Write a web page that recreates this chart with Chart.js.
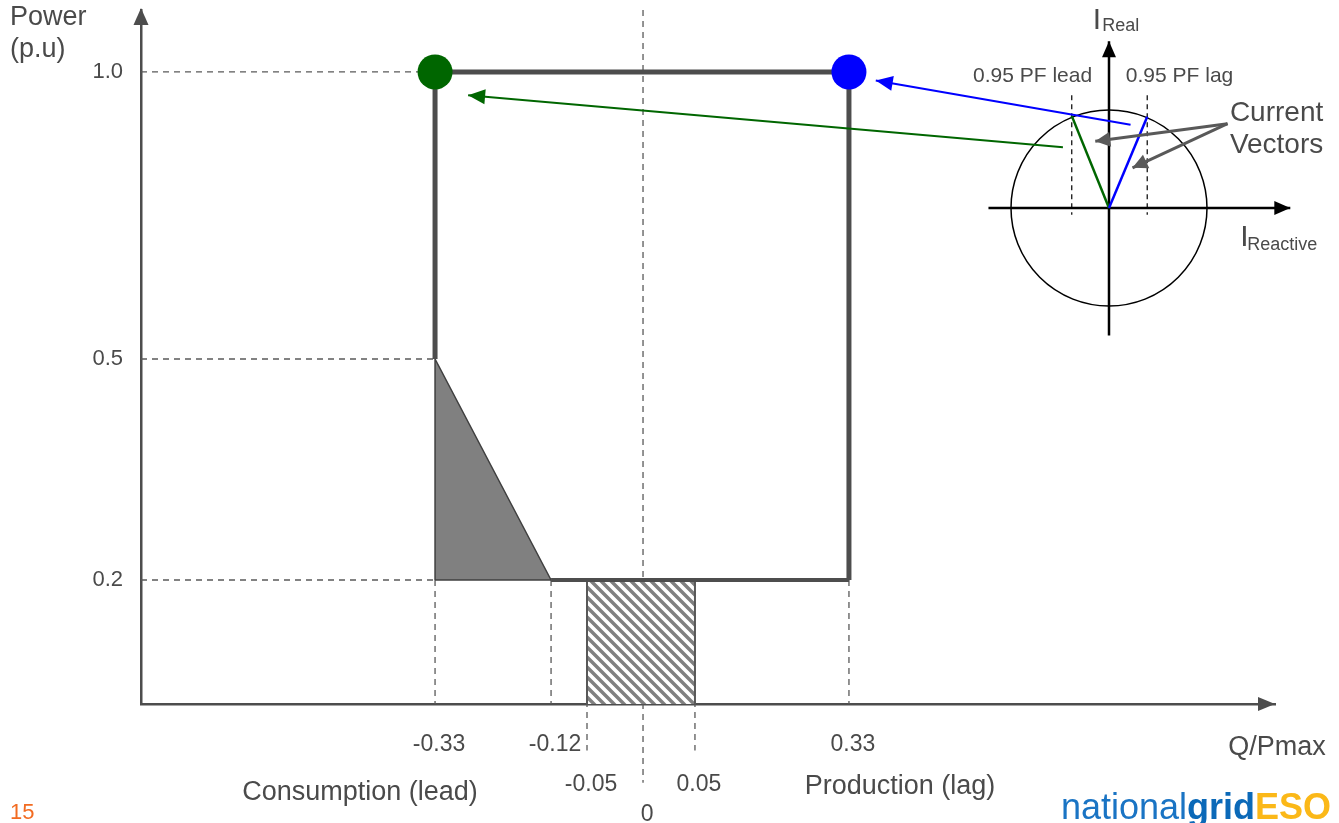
<!DOCTYPE html>
<html>
<head>
<meta charset="utf-8">
<script src="https://cdn.jsdelivr.net/npm/chart.js@4.4.1/dist/chart.umd.min.js"></script>
<style>
  html, body { margin: 0; padding: 0; background: #fff; }
  canvas { display: block; }
</style>
</head>
<body>
<canvas id="chart" width="1339" height="823"></canvas>
<script>
// Q/Pmax and power values
const qTicks = [-0.33, -0.12, -0.05, 0, 0.05, 0.33];
const qTickRow = [0, 0, 1, 2, 1, 0];
const pTicks = [0.2, 0.5, 1.0];

// reactive capability envelope
const envelopeQ = [-0.33, -0.33, 0.33, 0.33];
const envelopeP = [0.5, 1.0, 1.0, 0.2];
const baseQ = [0.33, -0.12];
const baseP = [0.2, 0.2];
const wedgeQ = [-0.33, -0.33, -0.12];
const wedgeP = [0.2, 0.5, 0.2];
const deadbandQ = [-0.05, -0.05, 0.05, 0.05];
const deadbandP = [0, 0.2, 0.2, 0];
const leadPoint = [-0.33, 1.0];
const lagPoint = [0.33, 1.0];

// current vectors, unit circle of the inset
const leadVector = [-0.38, 0.94];
const lagVector = [0.39, 0.93];

// how far the dashed guides reach (p values)
const guideTop = [0.2, 0.2, 0.2, 1.1, 0.2, 0.2];
const guideBottom = [0, 0, -0.075, -0.127, -0.075, 0];

// the Q and P axes are schematic, not linear
const KNOTS = {
  x: [[-0.86, 0], [-0.33, 0.2593], [-0.12, 0.3616], [-0.05, 0.3933], [0, 0.4427], [0.05, 0.4885], [0.33, 0.6243], [1.0, 1]],
  y: [[0, 0], [0.2, 0.1787], [0.5, 0.4971], [1.0, 0.9107], [1.1, 1]]
};

function interp(pairs, v, from, to) {
  let i = 1;
  while (i < pairs.length - 1 && v > pairs[i][from]) i++;
  const a = pairs[i - 1], b = pairs[i];
  return a[to] + (v - a[from]) * (b[to] - a[to]) / (b[from] - a[from]);
}

class KnotScale extends Chart.LinearScale {
  getPixelForValue(value) {
    return this.getPixelForDecimal(interp(KNOTS[this.id], value, 0, 1));
  }
  getValueForPixel(pixel) {
    return interp(KNOTS[this.id], this.getDecimalForPixel(pixel), 1, 0);
  }
}
KnotScale.id = 'knot';
KnotScale.defaults = {};
Chart.register(KnotScale);

const FONT = "'Liberation Sans', Arial, sans-serif";
const ink = '#4d4d4d';
const textColor = '#4a4a4a';
const green = '#006600';
const blue = '#0000ff';

function hatch() {
  const c = document.createElement('canvas');
  c.width = c.height = 10;
  const g = c.getContext('2d');
  g.fillStyle = '#fff';
  g.fillRect(0, 0, 10, 10);
  g.strokeStyle = '#808080';
  g.lineWidth = 3.5;
  g.beginPath();
  g.moveTo(-2, -2); g.lineTo(12, 12);
  g.moveTo(-2, 8); g.lineTo(2, 12);
  g.moveTo(8, -2); g.lineTo(12, 2);
  g.stroke();
  return g.createPattern(c, 'repeat');
}

function series(xs, ys, style, inset) {
  return Object.assign({
    data: xs.map((x, i) => ({ x: x, y: ys[i] })),
    xAxisID: inset ? 'x2' : 'x',
    yAxisID: inset ? 'y2' : 'y',
    borderColor: ink,
    borderWidth: 2,
    pointRadius: 0,
    fill: false,
    tension: 0,
    clip: false
  }, style);
}

const dashed = { borderColor: '#595959', borderWidth: 1.3, borderDash: [6, 5] };
const xMin = KNOTS.x[0][0];

// bottom layer first
const layers = [];
pTicks.forEach(p => layers.push(series([xMin, leadPoint[0]], [p, p], dashed)));
qTicks.forEach((q, i) => layers.push(series([q, q], [guideTop[i], guideBottom[i]], dashed)));
layers.push(series(wedgeQ, wedgeP, { fill: { value: 0.2 }, backgroundColor: '#808080', borderColor: '#3f3f3f', borderWidth: 1.5 }));
layers.push(series([wedgeQ[0], wedgeQ[2]], [wedgeP[0], wedgeP[2]], { borderColor: '#3f3f3f', borderWidth: 1.5 }));
layers.push(series(deadbandQ, deadbandP, { fill: { value: 0 }, backgroundColor: hatch(), borderColor: '#595959', borderWidth: 2 }));
layers.push(series(envelopeQ, envelopeP, { borderWidth: 5, borderJoinStyle: 'miter' }));
layers.push(series(baseQ, baseP, { borderWidth: 4 }));

// inset: vector diagram
layers.push(series([0], [0], { showLine: false, pointRadius: 98, pointBorderWidth: 1.5, pointBorderColor: '#000', pointBackgroundColor: 'rgba(0,0,0,0)' }, true));
layers.push(series([-1.23, 1.85], [0, 0], { borderColor: '#000', borderWidth: 2.5, arrowHead: [16, 7] }, true));
layers.push(series([0, 0], [-1.3, 1.7], { borderColor: '#000', borderWidth: 2.5, arrowHead: [16, 7] }, true));
[leadVector, lagVector].forEach(v => layers.push(series([v[0], v[0]], [1.15, -0.07], { borderColor: '#000', borderWidth: 1.2, borderDash: [5, 4] }, true)));
layers.push(series([0, leadVector[0]], [0, leadVector[1]], { borderColor: green, borderWidth: 2.5 }, true));
layers.push(series([0, lagVector[0]], [0, lagVector[1]], { borderColor: blue, borderWidth: 2.5 }, true));
layers.push(series([1.21, -0.14], [0.86, 0.68], { borderColor: '#595959', borderWidth: 3, arrowHead: [15, 7.5] }, true));
layers.push(series([1.21, 0.24], [0.86, 0.41], { borderColor: '#595959', borderWidth: 3, arrowHead: [15, 7.5] }, true));
layers.push(series([-0.47, -6.54], [0.62, 1.15], { borderColor: green, borderWidth: 2, arrowHead: [17, 7.5] }, true));
layers.push(series([0.22, -2.38], [0.85, 1.3], { borderColor: blue, borderWidth: 2, arrowHead: [17, 7.5] }, true));

// operating points on top
layers.push(series([leadPoint[0]], [leadPoint[1]], { showLine: false, pointRadius: 17.5, pointBorderWidth: 0, pointBackgroundColor: green, pointBorderColor: green }));
layers.push(series([lagPoint[0]], [lagPoint[1]], { showLine: false, pointRadius: 17.5, pointBorderWidth: 0, pointBackgroundColor: blue, pointBorderColor: blue }));

layers.forEach((d, i) => { d.order = layers.length - i; });

function head(ctx, tip, angle, len, half, color) {
  ctx.save();
  ctx.translate(tip.x, tip.y);
  ctx.rotate(angle);
  ctx.beginPath();
  ctx.moveTo(0, 0);
  ctx.lineTo(-len, -half);
  ctx.lineTo(-len, half);
  ctx.closePath();
  ctx.fillStyle = color;
  ctx.fill();
  ctx.restore();
}

const arrowPlugin = {
  id: 'arrowHeads',
  afterDatasetsDraw(chart) {
    const ctx = chart.ctx;
    chart.data.datasets.forEach((ds, i) => {
      if (!ds.arrowHead) return;
      const pts = chart.getDatasetMeta(i).data;
      const a = pts[pts.length - 2], b = pts[pts.length - 1];
      head(ctx, b, Math.atan2(b.y - a.y, b.x - a.x), ds.arrowHead[0], ds.arrowHead[1], ds.borderColor);
    });
    const area = chart.chartArea;
    head(ctx, { x: area.left, y: area.top - 2 }, -Math.PI / 2, 17, 7.5, ink);
    head(ctx, { x: area.right, y: area.bottom }, 0, 17, 7, ink);
  }
};

const textPlugin = {
  id: 'texts',
  afterDraw(chart) {
    const { ctx, chartArea: area, scales: { x, x2, y2 } } = chart;
    const rowOffset = [41, 81, 111];
    ctx.save();
    ctx.fillStyle = textColor;
    ctx.textAlign = 'center';
    ctx.textBaseline = 'middle';
    ctx.font = '23px ' + FONT;
    qTicks.forEach((q, i) => ctx.fillText(String(q), x.getPixelForValue(q) + 4, area.bottom + rowOffset[qTickRow[i]]));

    ctx.font = '27px ' + FONT;
    ctx.fillText('Q/Pmax', 1277, 748);
    ctx.fillText('Consumption (lead)', 360, 793);
    ctx.fillText('Production (lag)', 900, 787);
    ctx.textAlign = 'left';
    ctx.fillText('Power', 10, 18);
    ctx.fillText('(p.u)', 10, 50);

    // inset labels, placed in unit-circle coordinates
    const ix = v => x2.getPixelForValue(v), iy = v => y2.getPixelForValue(v);
    ctx.textAlign = 'center';
    ctx.font = '21px ' + FONT;
    ctx.fillText('0.95 PF lead', ix(-0.78), iy(1.34));
    ctx.fillText('0.95 PF lag', ix(0.72), iy(1.34));
    ctx.font = '28px ' + FONT;
    ctx.fillText('Current', ix(1.71), iy(0.97));
    ctx.fillText('Vectors', ix(1.71), iy(0.64));

    ctx.textAlign = 'left';
    ctx.textBaseline = 'alphabetic';
    ctx.font = '30px ' + FONT;
    ctx.fillText('I', ix(-0.165), iy(1.83));
    ctx.fillText('I', ix(1.34), iy(-0.39));
    ctx.font = '18px ' + FONT;
    ctx.fillText('Real', ix(-0.07), iy(1.81));
    ctx.fillText('Reactive', ix(1.41), iy(-0.43));

    // page furniture
    ctx.fillStyle = '#f26b21';
    ctx.font = '22px ' + FONT;
    ctx.fillText('15', 10, 819);
    let lx = 1061;
    [['national', 'normal', '#1a74c4'], ['grid', 'bold', '#0b69b8'], ['ESO', 'bold', '#fbb818']].forEach(([t, w, c]) => {
      ctx.font = w + ' 36px ' + FONT;
      ctx.fillStyle = c;
      ctx.fillText(t, lx, 819);
      lx += ctx.measureText(t).width;
    });
    ctx.restore();
  }
};

new Chart(document.getElementById('chart'), {
  type: 'line',
  data: { datasets: layers },
  options: {
    responsive: false,
    animation: false,
    events: [],
    layout: { autoPadding: false, padding: { top: 10, right: 64, left: 0, bottom: 0 } },
    plugins: { legend: { display: false }, tooltip: { enabled: false } },
    scales: {
      x: {
        type: 'knot',
        min: xMin,
        max: KNOTS.x[KNOTS.x.length - 1][0],
        afterBuildTicks: s => { s.ticks = qTicks.map(v => ({ value: v })); },
        afterFit: s => { s.height = 119; s.paddingLeft = 0; s.paddingRight = 0; },
        grid: { display: false, drawTicks: false },
        border: { display: true, color: ink, width: 2.5 },
        ticks: { display: false }
      },
      y: {
        type: 'knot',
        min: 0,
        max: KNOTS.y[KNOTS.y.length - 1][0],
        afterBuildTicks: s => { s.ticks = pTicks.map(v => ({ value: v })); },
        afterFit: s => { s.width = 141; s.paddingTop = 0; s.paddingBottom = 0; },
        grid: { display: false, drawTicks: false },
        border: { display: true, color: ink, width: 2.5 },
        ticks: { callback: v => v.toFixed(1), color: textColor, padding: 18, font: { family: FONT, size: 22 } }
      },
      x2: { type: 'linear', display: false, min: -9.878, max: 1.694 },
      y2: { type: 'linear', display: false, min: -5.061, max: 2.02 }
    }
  },
  plugins: [arrowPlugin, textPlugin]
});
</script>
</body>
</html>
